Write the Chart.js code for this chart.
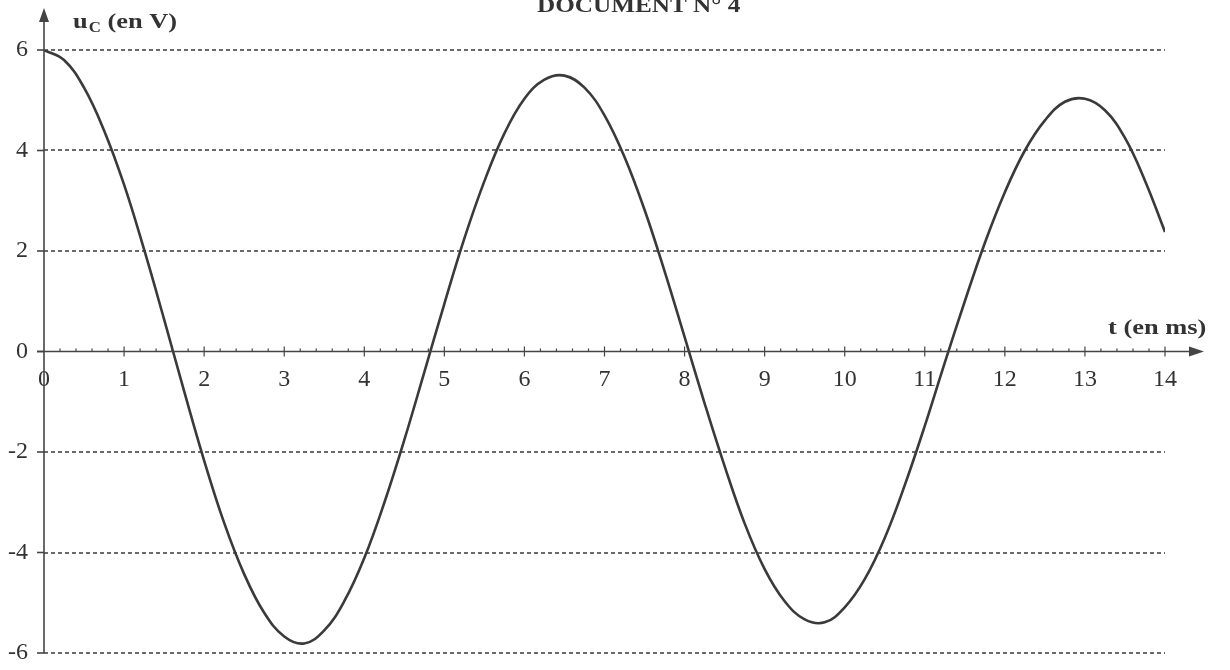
<!DOCTYPE html>
<html>
<head>
    <title>Document 4 - uC(t)</title>
    <script src="https://cdn.jsdelivr.net/npm/chart.js"></script>
    <style>
        body { margin: 0; background: #fff; }
        #wrap { width: 1230px; height: 670px; }
    </style>
</head>
<body>
    <div id="wrap"><canvas id="uChart" width="1230" height="670"></canvas></div>

    <script>
        // readings taken off the scanned curve every 0.25 ms (t in ms, uC in V)
        var timeMs = [0, 0.25, 0.5, 0.75, 1.0, 1.25, 1.5, 1.75, 2.0, 2.25, 2.5, 2.75, 3.0, 3.25,
            3.5, 3.75, 4.0, 4.25, 4.5, 4.75, 5.0, 5.25, 5.5, 5.75, 6.0, 6.25, 6.5,
            6.75, 7.0, 7.25, 7.5, 7.75, 8.0, 8.25, 8.5, 8.75, 9.0, 9.25, 9.5, 9.75,
            10.0, 10.25, 10.5, 10.75, 11.0, 11.25, 11.5, 11.75, 12.0, 12.25, 12.5, 12.75, 13.0,
            13.25, 13.5, 13.75, 14.0];
        var uC = [6.0, 5.8, 5.25, 4.4, 3.32, 2.03, 0.64, -0.79, -2.17, -3.41, -4.43, -5.2, -5.67, -5.81,
            -5.55, -4.97, -4.11, -3.01, -1.76, -0.41, 0.95, 2.25, 3.39, 4.34, 5.03, 5.41, 5.49,
            5.25, 4.7, 3.87, 2.82, 1.6, 0.29, -1.03, -2.28, -3.42, -4.33, -4.97, -5.33, -5.39,
            -5.09, -4.53, -3.71, -2.66, -1.48, -0.22, 1.0, 2.16, 3.17, 4.0, 4.6, 4.97, 5.03,
            4.8, 4.25, 3.4, 2.38];

        var xTicks = [0, 1, 2, 3, 4, 5, 6, 7, 8, 9, 10, 11, 12, 13, 14];
        var yTicks = [-6, -4, -2, 0, 2, 4, 6];

        var ink = '#333';
        var serif = '"Liberation Serif", "Times New Roman", serif';

        function stretchText(ctx, text, x, y, font) {
            ctx.save();
            ctx.font = font;
            ctx.translate(x, y);
            ctx.scale(1.2, 1);
            ctx.fillText(text, 0, 0);
            var w = ctx.measureText(text).width * 1.2;
            ctx.restore();
            return w;
        }

        var axesDecor = {
            id: 'axesDecor',
            afterDraw: function(chart) {
                var ctx = chart.ctx;
                var xs = chart.scales.x, ys = chart.scales.y;
                var x0 = xs.getPixelForValue(0);
                var y0 = ys.getPixelForValue(0);

                ctx.save();
                ctx.strokeStyle = '#444';
                ctx.fillStyle = '#444';
                ctx.lineWidth = 1.6;

                // vertical axis + arrow
                ctx.beginPath();
                ctx.moveTo(x0, ys.getPixelForValue(-6));
                ctx.lineTo(x0, 20);
                ctx.stroke();
                ctx.beginPath();
                ctx.moveTo(x0, 8);
                ctx.lineTo(x0 - 5, 22);
                ctx.lineTo(x0 + 5, 22);
                ctx.closePath();
                ctx.fill();

                // horizontal axis + arrow
                ctx.beginPath();
                ctx.moveTo(x0 - 7, y0);
                ctx.lineTo(1192, y0);
                ctx.stroke();
                ctx.beginPath();
                ctx.moveTo(1204, y0);
                ctx.lineTo(1189, y0 - 5);
                ctx.lineTo(1189, y0 + 5);
                ctx.closePath();
                ctx.fill();

                // small stubs on the vertical axis
                yTicks.forEach(function(v) {
                    var py = ys.getPixelForValue(v);
                    ctx.beginPath();
                    ctx.moveTo(x0 - 7, py);
                    ctx.lineTo(x0, py);
                    ctx.stroke();
                });

                // graduations on the time axis (0.2 ms)
                ctx.lineWidth = 1.2;
                for (var i = 1; i <= 70; i++) {
                    var px = xs.getPixelForValue(i * 0.2);
                    var major = i % 5 === 0;
                    ctx.beginPath();
                    ctx.moveTo(px, y0 - (major ? 5 : 3));
                    ctx.lineTo(px, y0 + (major ? 5 : 0));
                    ctx.stroke();
                }

                // labels
                ctx.fillStyle = ink;
                ctx.textBaseline = 'alphabetic';
                var w = stretchText(ctx, 'u', 73, 28, 'bold 22px ' + serif);
                var w2 = stretchText(ctx, 'C', 73 + w + 1, 32, 'bold 14px ' + serif);
                stretchText(ctx, ' (en V)', 73 + w + w2 + 1, 28, 'bold 22px ' + serif);
                stretchText(ctx, 't (en ms)', 1108, 334, 'bold 22px ' + serif);
                stretchText(ctx, 'DOCUMENT N\u00B0 4', 537, 12, 'bold 21px ' + serif);
                ctx.restore();
            }
        };

        var ctx = document.getElementById('uChart').getContext('2d');
        var uChart = new Chart(ctx, {
            type: 'line',
            data: {
                datasets: [{
                    label: 'uC',
                    data: timeMs.map(function(t, i) { return { x: t, y: uC[i] }; }),
                    borderColor: '#3a3a3a',
                    borderWidth: 2.6,
                    pointRadius: 0,
                    tension: 0.4,
                    fill: false
                }]
            },
            options: {
                responsive: false,
                animation: false,
                devicePixelRatio: 1,
                layout: { padding: { left: 0, right: 65, top: 50, bottom: 17 } },
                plugins: {
                    legend: { display: false },
                    tooltip: { enabled: false }
                },
                scales: {
                    x: {
                        type: 'linear',
                        min: 0,
                        max: 14,
                        position: { y: 0 },
                        afterFit: function(scale) { scale.height = 0; },
                        afterBuildTicks: function(scale) {
                            scale.ticks = xTicks.map(function(v) { return { value: v }; });
                        },
                        grid: { display: false, drawTicks: false },
                        border: { display: false },
                        ticks: {
                            padding: 14,
                            color: ink,
                            maxRotation: 0,
                            autoSkip: false,
                            font: { family: serif, size: 24 }
                        }
                    },
                    y: {
                        min: -6,
                        max: 6,
                        position: 'left',
                        afterFit: function(scale) { scale.width = 44; },
                        afterBuildTicks: function(scale) {
                            scale.ticks = yTicks.map(function(v) { return { value: v }; });
                        },
                        grid: {
                            drawTicks: true,
                            tickLength: 12,
                            tickColor: 'rgba(0,0,0,0)',
                            lineWidth: 2,
                            color: function(c) {
                                return (c.tick && c.tick.value === 0) ? 'rgba(0,0,0,0)' : '#6a6a6a';
                            }
                        },
                        border: { display: false, dash: [4, 3] },
                        ticks: {
                            padding: 4,
                            color: ink,
                            font: { family: serif, size: 24, lineHeight: 1.0 }
                        }
                    }
                }
            },
            plugins: [axesDecor]
        });
    </script>
</body>
</html>
